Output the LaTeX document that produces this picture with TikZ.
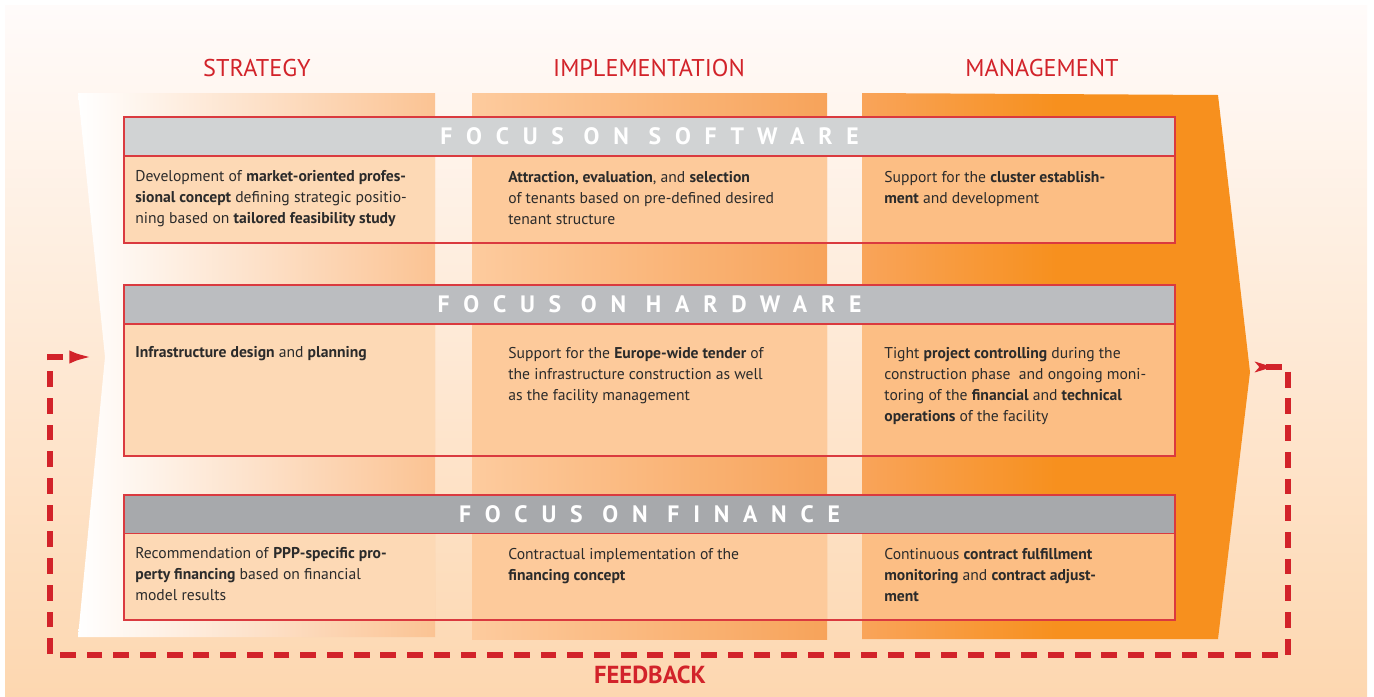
\documentclass[tikz,border=0pt]{standalone}
\usepackage{fontspec}
\setmainfont{PT Sans}
\newfontfamily\focusfont{PT Sans}[LetterSpace=58]
\usetikzlibrary{arrows.meta,calc,positioning}
\definecolor{ppRed}{HTML}{D2232A}
\definecolor{boxRed}{HTML}{DA3A3F}
\definecolor{textGray}{HTML}{2B2B2B}
\definecolor{bgTop}{HTML}{FFFBFA}
\definecolor{bgBot}{HTML}{FDD7B0}
\definecolor{colS}{HTML}{FBC393}
\definecolor{colIa}{HTML}{FDCB9E}
\definecolor{colIb}{HTML}{F7A35A}
\definecolor{colMa}{HTML}{F9A45A}
\definecolor{colMb}{HTML}{F7901E}
\definecolor{cellS}{HTML}{FDD9B5}
\definecolor{cellI}{HTML}{FDCA9B}
\definecolor{cellM}{HTML}{FCBE84}
\definecolor{grayA}{HTML}{D1D3D4}
\definecolor{grayB}{HTML}{BBBDC0}
\definecolor{grayC}{HTML}{A7A9AC}
\tikzset{
	phase/.style={text=ppRed, inner sep=0pt,
		font=\fontsize{13.8}{16}\selectfont},
	focus bar/.style={draw=boxRed, line width=1pt, inner sep=0pt,
		minimum width=21.02cm, minimum height=0.78cm, text=white,
		font=\focusfont\bfseries\fontsize{13.5}{14}\selectfont},
	box edge/.style={draw=boxRed, line width=1pt},
	cell text/.style={anchor=north west, inner sep=0pt, align=left,
		text=textGray, font=\fontsize{8.9}{11.9}\selectfont},
	feedback/.style={draw=ppRed, line width=3pt,
		dash pattern=on 9pt off 6.2pt,
		arrows={Stealth[reversed,length=10pt,width=6pt,inset=2.5pt]-Latex[length=13.5pt,width=7.5pt]}},
	feedback label/.style={text=ppRed, inner sep=0pt,
		font=\bfseries\fontsize{14}{16}\selectfont}
}
\begin{document}
\begin{tikzpicture}[x=0.02cm, y=-0.02cm]
	\useasboundingbox (0,0) rectangle (1374,697);
	\shade[top color=bgTop, bottom color=bgBot] (5,5) rectangle (1367,697);
	% phase columns, together the big arrow
	\shade[left color=white, right color=colS]
		(78,93) -- (435,93) -- (435,637) -- (78,637) -- (105,357) coordinate (notch) -- cycle;
	\shade[left color=colIa, right color=colIb] (472,93) rectangle (827,639);
	\shade[left color=colMa, right color=colMb, middle color=colMb]
		(862,93) -- (1218,95) -- (1250,372) coordinate (tip) -- (1218,639) -- (862,639) -- cycle;
	\node[phase] (strategy) at (257,68) {STRATEGY};
	\node[phase] (implementation) at (649,68) {IMPLEMENTATION};
	\node[phase] (management) at (1042,68) {MANAGEMENT};
	% the three focus boxes
	\foreach \name/\title/\ytop/\ymid/\ybot/\gray in
		{soft/FOCUS\ ON\ SOFTWARE/117/156/243/grayA,
		 hard/FOCUS\ ON\ HARDWARE/285/324/456/grayB,
		 fin/FOCUS\ ON\ FINANCE/495/533/620/grayC} {
		\fill[cellS] (124,\ymid) rectangle (435,\ybot);
		\fill[cellI] (472,\ymid) rectangle (827,\ybot);
		\fill[cellM] (862,\ymid) rectangle (1175,\ybot);
		\node[focus bar, fill=\gray] (\name) at ({649.5},{(\ytop+\ymid)/2}) {\title};
		\draw[box edge] (124,\ytop) rectangle (1175,\ybot);
	}
	\node[cell text] (soft-s) at (135,170) {Development of \textbf{market-oriented profes-}\\
		\textbf{sional concept} defining strategic positio-\\
		ning based on \textbf{tailored feasibility study}};
	\node[cell text] (soft-i) at (508,171) {\textbf{Attraction, evaluation}, and \textbf{selection}\\
		of tenants based on pre-defined desired\\
		tenant structure};
	\node[cell text] (soft-m) at (884,171) {Support for the \textbf{cluster establish-}\\
		\textbf{ment} and development};
	\node[cell text] (hard-s) at (135,346) {\textbf{Infrastructure design} and \textbf{planning}};
	\node[cell text] (hard-i) at (508,347) {Support for the \textbf{Europe-wide tender} of\\
		the infrastructure construction as well\\
		as the facility management};
	\node[cell text] (hard-m) at (884,347) {Tight \textbf{project controlling} during the\\
		construction phase\ \ and ongoing moni-\\
		toring of the \textbf{financial} and \textbf{technical}\\
		\textbf{operations} of the facility};
	\node[cell text] (fin-s) at (135,547) {Recommendation of \textbf{PPP-specific pro-}\\
		\textbf{perty financing} based on financial\\
		model results};
	\node[cell text] (fin-i) at (508,548) {Contractual implementation of the\\
		\textbf{financing concept}};
	\node[cell text] (fin-m) at (884,548) {Continuous \textbf{contract fulfillment}\\
		\textbf{monitoring} and \textbf{contract adjust-}\\
		\textbf{ment}};
	% feedback loop
	\coordinate (fb out) at ($(tip)+(5,-5)$);
	\coordinate (fb in) at ($(notch)+(-12,0)$);
	\draw[feedback] (fb out) -- (1288,367) -- (1288,655) -- (50,655) -- (50,357) -- (fb in);
	\node[feedback label] (feedback) at (650,675) {FEEDBACK};
\end{tikzpicture}
\end{document}
